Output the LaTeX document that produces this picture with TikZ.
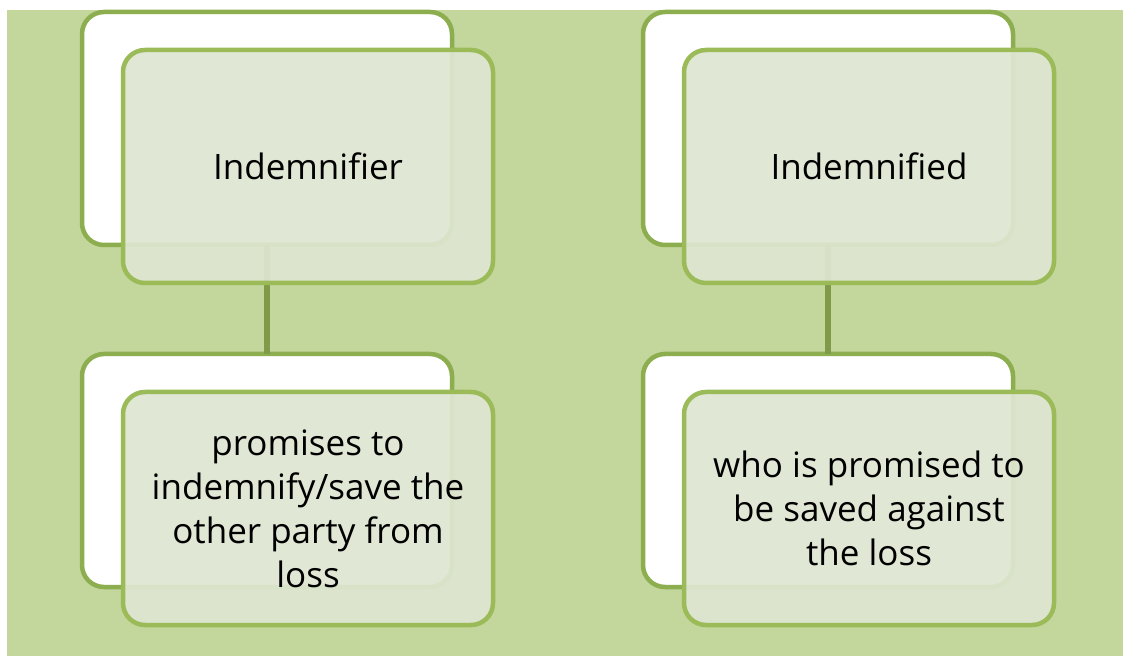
\documentclass[tikz,border=0pt]{standalone}
\usepackage{fontspec}
\setmainfont{Open Sans}
\usetikzlibrary{positioning,calc}

\definecolor{bggreen}{HTML}{C3D69B}
\definecolor{backline}{HTML}{8DAE4F}
\definecolor{frontline}{HTML}{9BBB59}
\definecolor{frontfill}{HTML}{DEE6D1}
\definecolor{linkline}{HTML}{7F9A48}

\begin{document}
\begin{tikzpicture}[x=1pt,y=1pt]
    \tikzset{backbox/.style={
        draw=backline, line width=4.5pt, fill=white, rounded corners=22pt,
        minimum width=370pt, minimum height=233pt, inner sep=0pt, outer sep=0pt
      },
      frontbox/.style={backbox,
        draw=frontline, fill=frontfill, fill opacity=0.93, text opacity=1,
        font=\fontsize{35}{44}\selectfont, align=center
      },
      link/.style={draw=linkline, line width=6pt}
    }

    \useasboundingbox (0,0) rectangle (1123,656);
    \fill[bggreen] (7,0) rectangle (1123,646);

    % back boxes
    \node[backbox] (indemnifierBack) at (267,527.5) {};
    \node[backbox] (indemnifiedBack) [right=191pt of indemnifierBack] {};
    \node[backbox] (promisesBack) [below=109pt of indemnifierBack] {};
    \node[backbox] (savedBack) [below=109pt of indemnifiedBack] {};

    \draw[link] (indemnifierBack.south) -- (promisesBack.north);
    \draw[link] (indemnifiedBack.south) -- (savedBack.north);

    % front boxes
    \node[frontbox] (indemnifier) at ($(indemnifierBack)+(41,-38)$) {Indemnifier};
    \node[frontbox] (indemnified) at ($(indemnifiedBack)+(41,-38)$) {Indemnified};
    \node[frontbox] (promises) at ($(promisesBack)+(41,-38)$)
      {promises to\\ indemnify/save the\\ other party from\\ loss};
    \node[frontbox] (saved) at ($(savedBack)+(41,-38)$)
      {who is promised to\\ be saved against\\ the loss};

\end{tikzpicture}
\end{document}
